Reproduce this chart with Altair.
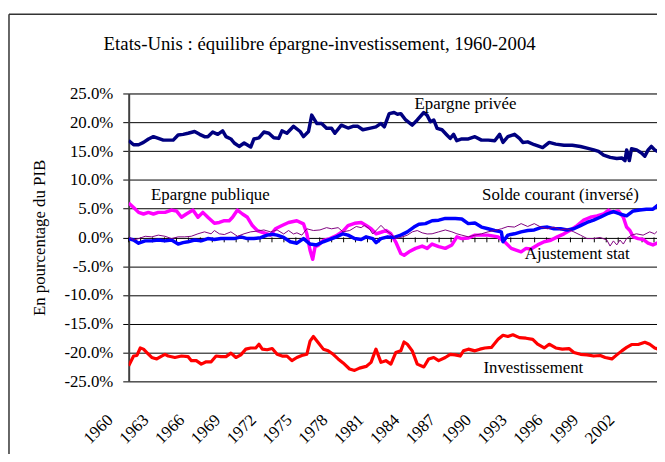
import altair as alt
import pandas as pd

FONT = "Liberation Serif, Times New Roman, Times, serif"

# (année, % du PIB)
epargne_privee = [(1960.0,16.8),(1960.41,16.1),(1960.83,16.1),(1961.24,16.5),(1961.66,17.1),(1962.07,17.5),(1962.49,17.2),(1962.90,16.9),(1963.31,16.9),(1963.73,16.9),(1964.14,17.8),(1964.56,17.9),(1964.97,18.1),(1965.52,18.4),(1965.94,17.9),(1966.35,17.5),(1966.63,17.5),(1967.04,18.3),(1967.46,17.9),(1967.87,18.5),(1968.15,17.5),(1968.56,17.1),(1968.84,16.4),(1969.25,15.8),(1969.67,16.4),(1970.22,15.7),(1970.49,17.1),(1970.91,17.3),(1971.32,18.3),(1971.74,18.1),(1972.15,17.3),(1972.57,17.2),(1972.84,18.5),(1973.25,18.1),(1973.81,19.3),(1974.36,18.4),(1974.64,17.5),(1975.06,18.4),(1975.33,21.25),(1975.75,19.8),(1976.16,19.8),(1976.57,18.95),(1976.99,18.95),(1977.27,18.1),(1977.81,19.5),(1978.37,19.0),(1978.78,19.3),(1979.20,19.3),(1979.61,18.7),(1980.16,18.95),(1980.71,19.2),(1981.13,19.8),(1981.41,19.2),(1981.82,21.5),(1982.23,21.7),(1982.51,21.4),(1982.79,21.5),(1983.20,20.4),(1983.75,19.5),(1984.17,20.4),(1984.72,21.7),(1985.00,21.2),(1985.27,20.1),(1985.55,20.4),(1985.83,18.95),(1986.24,18.7),(1986.65,17.8),(1986.93,17.2),(1987.21,17.9),(1987.48,16.8),(1987.90,17.1),(1988.45,17.1),(1989.00,17.5),(1989.55,16.9),(1990.11,16.9),(1990.66,16.8),(1991.07,17.9),(1991.35,16.5),(1991.76,17.5),(1992.32,17.9),(1992.73,17.2),(1993.01,16.5),(1993.42,16.6),(1993.97,16.1),(1994.39,15.8),(1994.67,15.6),(1995.22,16.5),(1995.77,16.2),(1996.46,16.0),(1997.15,16.0),(1997.84,15.8),(1998.39,15.5),(1998.95,15.2),(1999.36,14.95),(1999.78,14.3),(2000.33,13.9),(2000.88,13.7),(2001.30,13.8),(2001.57,13.35),(2001.71,15.2),(2001.93,13.35),(2002.12,15.4),(2002.54,15.2),(2002.95,14.65),(2003.23,14.1),(2003.51,15.2),(2003.78,15.8),(2004.06,15.2),(2004.33,14.9)]

epargne_publique = [(1960.0,5.96),(1960.41,5.2),(1960.83,4.35),(1961.24,4.07),(1961.65,4.35),(1962.07,4.07),(1962.48,4.35),(1963.04,4.35),(1963.59,4.75),(1964.0,4.6),(1964.42,3.5),(1964.83,4.07),(1965.38,4.75),(1965.8,3.5),(1966.21,4.35),(1966.63,3.5),(1967.18,2.46),(1967.59,2.6),(1968.01,2.9),(1968.42,2.9),(1968.7,3.5),(1969.11,4.75),(1969.53,4.07),(1969.94,3.5),(1970.36,2.06),(1970.77,1.2),(1971.18,0.9),(1971.6,0.63),(1971.87,0.4),(1972.29,1.5),(1972.84,2.06),(1973.39,2.6),(1974.08,2.9),(1974.64,2.35),(1974.92,0.63),(1975.19,-2.23),(1975.41,-3.8),(1975.61,-1.6),(1975.88,-1.37),(1976.3,-0.5),(1976.85,-0.2),(1977.4,0.3),(1977.95,1.1),(1978.37,2.06),(1978.92,2.46),(1979.47,2.6),(1979.89,2.06),(1980.3,1.5),(1980.72,0.63),(1981.13,0.9),(1981.55,1.2),(1981.96,0.63),(1982.37,-0.8),(1982.79,-2.8),(1983.07,-3.1),(1983.48,-2.5),(1984.03,-1.9),(1984.58,-1.5),(1985.0,-1.9),(1985.41,-1.15),(1985.97,-1.6),(1986.52,-1.9),(1987.07,-1.3),(1987.49,0.1),(1987.9,-0.2),(1988.45,-0.1),(1989.0,0.4),(1989.55,0.4),(1990.1,0.4),(1990.93,0.1),(1991.48,-0.75),(1992.04,-1.9),(1992.45,-2.2),(1992.87,-2.5),(1993.28,-1.9),(1993.69,-2.0),(1994.25,-1.3),(1994.8,-0.75),(1995.35,-0.5),(1995.9,0.1),(1996.46,0.63),(1997.01,1.3),(1997.56,2.06),(1998.11,3.0),(1998.67,3.5),(1999.22,3.75),(1999.77,4.07),(2000.19,4.75),(2000.46,4.35),(2001.01,4.6),(2001.43,3.5),(2001.7,1.8),(2001.98,1.2),(2002.26,0.1),(2002.67,-0.2),(2003.09,-0.35),(2003.5,-1.0),(2003.91,-1.3),(2004.33,-0.9)]

solde_courant = [(1960.0,-0.2),(1960.41,-0.45),(1960.83,-1.0),(1961.38,-0.6),(1961.93,-0.6),(1962.48,-0.45),(1963.04,-0.6),(1963.59,-0.45),(1964.14,-1.15),(1964.55,-0.9),(1964.97,-0.75),(1965.52,-0.45),(1966.07,-0.6),(1966.63,-0.2),(1967.18,-0.35),(1967.73,-0.2),(1968.28,-0.2),(1968.84,-0.2),(1969.39,0.1),(1969.94,-0.2),(1970.49,-0.2),(1971.05,-0.05),(1971.6,0.4),(1972.01,0.55),(1972.43,0.4),(1972.98,0.0),(1973.53,-0.75),(1974.09,-1.0),(1974.64,-0.2),(1975.19,-1.15),(1975.74,-1.3),(1976.3,-0.75),(1976.85,-0.35),(1977.4,0.1),(1977.95,0.63),(1978.37,0.4),(1978.92,-0.2),(1979.47,-0.35),(1979.89,0.1),(1980.44,-0.2),(1980.72,-0.9),(1981.13,-0.2),(1981.68,0.1),(1982.24,0.0),(1982.79,0.4),(1983.34,0.97),(1983.89,1.8),(1984.31,2.3),(1984.86,2.4),(1985.41,2.9),(1985.97,3.0),(1986.52,3.3),(1987.35,3.3),(1987.9,3.2),(1988.44,2.4),(1989.0,2.5),(1989.55,1.8),(1990.1,1.5),(1990.65,1.2),(1991.21,0.97),(1991.35,-0.75),(1991.76,0.4),(1992.31,0.63),(1992.87,0.97),(1993.42,1.2),(1993.97,1.3),(1994.52,1.7),(1995.07,1.8),(1995.63,1.5),(1996.18,1.5),(1996.73,1.3),(1997.28,1.5),(1997.84,2.06),(1998.39,2.6),(1998.94,3.0),(1999.49,3.5),(2000.05,4.07),(2000.6,4.5),(2001.15,4.07),(2001.7,3.75),(2002.26,4.6),(2002.81,4.75),(2003.36,4.9),(2003.91,4.9),(2004.33,5.6)]

ajustement_stat = [(1960.0,0.1),(1960.41,-0.45),(1960.83,-0.2),(1961.38,0.2),(1961.93,0.1),(1962.48,0.4),(1963.04,0.2),(1963.59,-0.2),(1964.14,0.1),(1964.69,0.1),(1965.24,0.2),(1965.8,0.63),(1966.35,0.97),(1966.9,0.63),(1967.18,1.2),(1967.59,0.63),(1968.01,0.5),(1968.56,0.97),(1969.11,0.2),(1969.66,0.63),(1970.22,0.97),(1970.77,1.1),(1971.32,1.3),(1971.87,0.97),(1972.43,1.3),(1972.98,0.6),(1973.39,1.2),(1973.8,0.6),(1974.09,0.8),(1974.5,0.4),(1974.92,1.5),(1975.47,1.2),(1976.02,1.3),(1976.57,1.7),(1976.99,1.5),(1977.54,1.7),(1977.95,0.97),(1978.51,1.2),(1979.06,1.9),(1979.47,1.7),(1979.75,2.1),(1980.16,1.5),(1980.44,0.6),(1980.86,1.5),(1981.13,2.1),(1981.55,1.2),(1981.96,0.63),(1982.37,-0.2),(1982.79,0.0),(1983.34,0.4),(1983.76,0.97),(1984.17,1.2),(1984.58,0.8),(1985.0,0.6),(1985.41,0.63),(1985.97,0.97),(1986.52,1.3),(1987.07,0.97),(1987.49,0.63),(1987.9,0.4),(1988.45,0.1),(1989.0,0.4),(1989.55,0.63),(1990.1,0.97),(1990.65,1.2),(1991.21,1.5),(1991.76,1.9),(1992.31,1.8),(1992.87,2.4),(1993.42,1.9),(1993.97,2.4),(1994.52,1.8),(1995.07,1.5),(1995.63,1.8),(1996.18,1.3),(1996.73,1.5),(1997.28,0.97),(1997.84,0.4),(1998.39,-0.2),(1998.94,-0.2),(1999.49,0.0),(2000.05,-0.45),(2000.32,-1.5),(2000.6,-0.6),(2000.88,-1.3),(2001.15,-0.45),(2001.43,-1.15),(2001.7,-0.2),(2002.12,0.4),(2002.53,0.63),(2003.09,0.4),(2003.64,0.97),(2004.05,0.63),(2004.33,1.2)]

investissement = [(1960.0,-22.3),(1960.41,-20.6),(1960.69,-20.5),(1960.97,-19.2),(1961.24,-19.4),(1961.52,-20.0),(1961.93,-20.85),(1962.35,-21.1),(1962.76,-20.6),(1963.04,-20.3),(1963.31,-20.6),(1963.87,-20.85),(1964.42,-20.6),(1964.97,-20.7),(1965.25,-21.4),(1965.66,-21.4),(1966.08,-22.0),(1966.49,-21.6),(1966.91,-21.6),(1967.32,-20.6),(1967.73,-20.7),(1968.15,-20.7),(1968.56,-20.1),(1968.98,-20.85),(1969.39,-20.4),(1969.81,-19.4),(1970.22,-19.2),(1970.64,-19.2),(1970.91,-18.55),(1971.19,-19.4),(1971.6,-19.5),(1972.02,-19.3),(1972.43,-20.3),(1972.85,-20.6),(1973.26,-20.6),(1973.67,-21.4),(1974.09,-20.85),(1974.5,-20.5),(1974.92,-20.3),(1975.19,-18.0),(1975.47,-17.2),(1975.88,-18.3),(1976.3,-19.4),(1976.71,-19.7),(1977.13,-20.3),(1977.54,-21.1),(1977.96,-21.8),(1978.5,-22.85),(1978.92,-23.1),(1979.33,-22.7),(1979.89,-22.4),(1980.3,-21.7),(1980.71,-19.4),(1981.13,-21.7),(1981.54,-21.4),(1981.96,-22.0),(1982.37,-20.0),(1982.79,-19.7),(1983.06,-18.15),(1983.34,-18.55),(1983.75,-19.7),(1984.17,-22.0),(1984.72,-22.5),(1985.13,-21.1),(1985.55,-20.85),(1985.96,-21.4),(1986.52,-20.85),(1986.93,-20.3),(1987.34,-20.4),(1987.76,-20.6),(1988.04,-19.7),(1988.45,-19.4),(1989.0,-19.7),(1989.42,-19.4),(1989.83,-19.2),(1990.38,-19.1),(1990.94,-17.7),(1991.35,-17.0),(1991.76,-17.2),(1992.18,-16.9),(1992.73,-17.4),(1993.28,-17.5),(1993.84,-17.7),(1994.25,-18.55),(1994.8,-19.2),(1995.22,-18.55),(1995.77,-19.2),(1996.32,-19.4),(1996.88,-19.3),(1997.29,-20.0),(1997.84,-20.3),(1998.39,-20.4),(1998.95,-20.6),(1999.5,-20.5),(1999.91,-20.85),(2000.47,-21.1),(2000.88,-20.4),(2001.3,-19.7),(2001.71,-19.1),(2002.12,-18.6),(2002.68,-18.6),(2003.23,-18.2),(2003.64,-18.55),(2004.06,-19.2),(2004.33,-19.4)]

label_years = list(range(1960, 2003, 3))
tick_years = list(range(1960, 2005))
y_ticks = list(range(-25, 30, 5))

series_labels = ["Epargne privée", "Epargne publique", "Solde courant (inversé)", "Ajustement stat", "Investissement"]
label_x = [1988.21, 1966.84, 1996.16, 1997.57, 1993.89]
label_y = [22.34, 6.53, 6.53, -3.8, -23.54]

titre = "Etats-Unis : équilibre épargne-investissement, 1960-2004"


def to_df(pairs):
    return pd.DataFrame(pairs, columns=["annee", "valeur"])


x_scale = alt.Scale(domain=[1960, 2004.25], nice=False, zero=False)
y_scale = alt.Scale(domain=[-25, 25], nice=False, zero=False)

x_axis = alt.Axis(
    values=label_years, format="d", title=None,
    labelAngle=-45, labelAlign="right", labelBaseline="middle",
    labelOffset=-19, labelPadding=36, ticks=False, domain=False, grid=False,
    labelFont=FONT, labelFontSize=17, labelColor="black",
    labelOverlap=False, labelFlush=False, labelBound=False,
)
y_axis = alt.Axis(
    values=y_ticks, title="En pourcentage du PIB",
    labelExpr="(datum.value < 0 ? '-' : '') + format(abs(datum.value), '.1f') + '%'",
    grid=True, gridColor="black", gridWidth=1,
    ticks=True, tickColor="black", tickSize=6, tickWidth=1,
    domain=True, domainColor="#404040", domainWidth=2,
    labelPadding=10, labelFont=FONT, labelFontSize=17, labelColor="black",
    titleFont=FONT, titleFontSize=17, titleFontWeight="normal", titleColor="black",
    titleX=-90, titleY=145.5, titleAngle=270, titleAlign="center", titleBaseline="middle",
)


def X():
    return alt.X("annee:Q", scale=x_scale, axis=x_axis)


def Y():
    return alt.Y("valeur:Q", scale=y_scale, axis=y_axis)


ticks_df = pd.DataFrame({"annee": tick_years, "valeur": [0.0] * len(tick_years), "bas": [-0.85] * len(tick_years)})
ticks = alt.Chart(ticks_df).mark_rule(color="black", strokeWidth=1).encode(
    x=X(), y=Y(), y2="bas:Q"
)


def line(pairs, color, width):
    return alt.Chart(to_df(pairs)).mark_line(
        color=color, strokeWidth=width, clip=True, strokeJoin="round"
    ).encode(x=X(), y=Y())


lines = [
    line(epargne_privee, "#000080", 3.5),
    line(epargne_publique, "#FF00FF", 3.5),
    line(solde_courant, "#0000FF", 3.5),
    line(investissement, "#FF0000", 3.2),
    line(ajustement_stat, "#800080", 1),
]

labels_df = pd.DataFrame({"annee": label_x, "valeur": label_y, "texte": series_labels})
labels = alt.Chart(labels_df).mark_text(
    font=FONT, fontSize=17, align="center", baseline="alphabetic", color="black"
).encode(x=X(), y=Y(), text="texte:N")

title_df = pd.DataFrame({"texte": [titre]})
title = alt.Chart(title_df).mark_text(
    font=FONT, fontSize=19, align="center", baseline="alphabetic", color="black"
).encode(x=alt.value(193), y=alt.value(-44), text="texte:N")

frame_df = pd.DataFrame({"k": [0]})
left_border = alt.Chart(frame_df).mark_rule(color="#333333", strokeWidth=1.5).encode(
    x=alt.value(-121), y=alt.value(-80), y2=alt.value(380)
)
top_border = alt.Chart(frame_df).mark_rule(color="#333333", strokeWidth=1.5).encode(
    x=alt.value(-121), x2=alt.value(540), y=alt.value(-80)
)

chart = alt.layer(ticks, *lines, labels, title, left_border, top_border).properties(
    width=534, height=291,
    autosize=alt.AutoSizeParams(type="none"),
    padding={"left": 122, "top": 84, "right": 0, "bottom": 71},
).configure_view(stroke=None).configure(background="white")

chart.save("out.html", embed_options={"renderer": "svg", "actions": False})
